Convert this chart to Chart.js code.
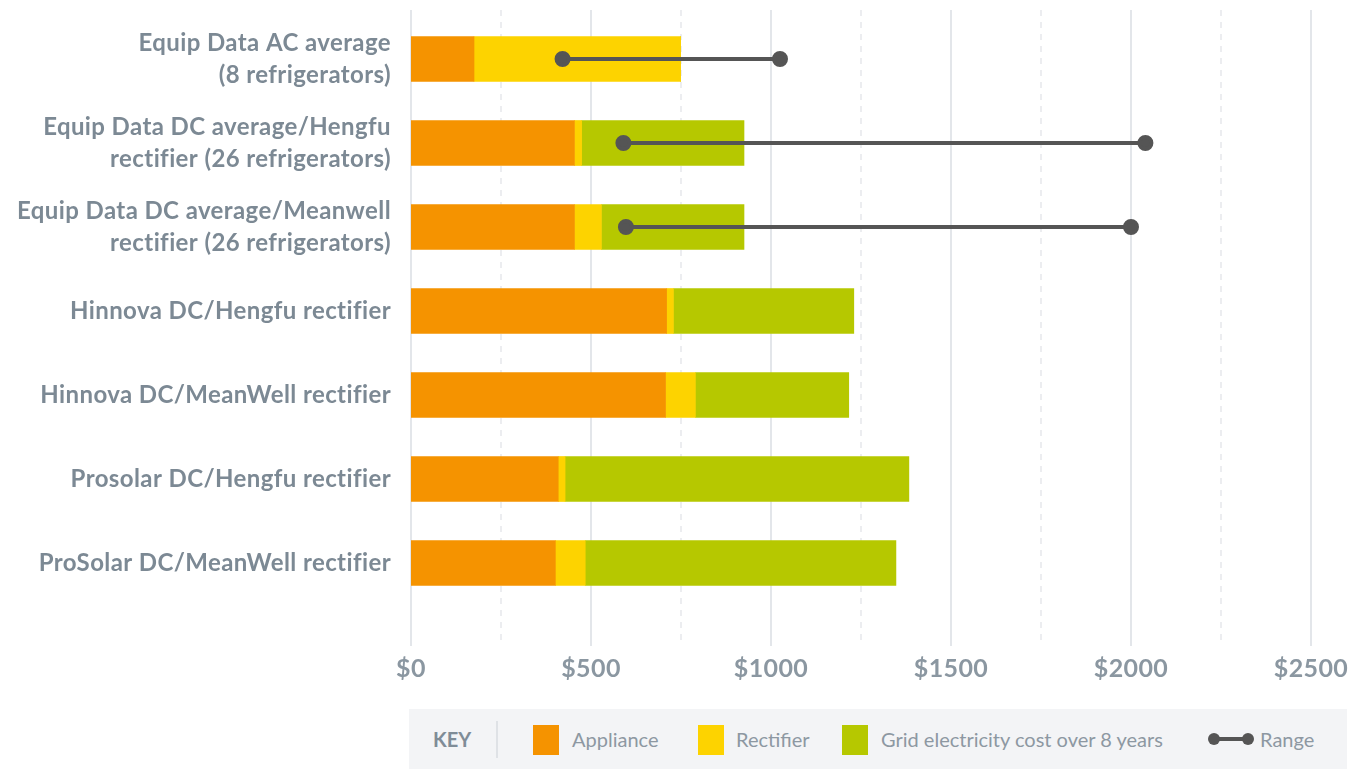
<!DOCTYPE html>
<html>
<head>
<meta charset="utf-8">
<script src="https://cdn.jsdelivr.net/npm/chart.js@4/dist/chart.umd.min.js"></script>
<style>
	html, body { margin: 0; padding: 0; background: #fff; }
	#wrap { position: relative; width: 1365px; height: 769px; font-family: Lato, "Open Sans", sans-serif; }
	#key { position: absolute; left: 409px; top: 709px; width: 938px; height: 60px; background: #f3f4f6; }
	#key span { position: absolute; top: 18px; font-size: 20px; line-height: 24px; color: #8d98a2; }
	#key .sw { position: absolute; top: 16px; width: 26px; height: 30px; }
	#key .title { font-weight: bold; color: #7f8c97; }
	#key .sep { position: absolute; left: 87px; top: 12px; width: 2px; height: 37px; background: #dfe2e6; }
</style>
</head>
<body>
<div id="wrap">
	<canvas id="chart"></canvas>
	<div id="key">
		<span class="title" style="left:24px">KEY</span>
		<div class="sep"></div>
		<div class="sw" style="left:124px;background:#f59300"></div>
		<span style="left:163px">Appliance</span>
		<div class="sw" style="left:289px;background:#fdd300"></div>
		<span style="left:327px">Rectifier</span>
		<div class="sw" style="left:433px;background:#b6c800"></div>
		<span style="left:472px">Grid electricity cost over 8 years</span>
		<svg style="position:absolute;left:797px;top:22px" width="50" height="16">
			<line x1="8" y1="8" x2="42" y2="8" stroke="#555" stroke-width="4"></line>
			<circle cx="8" cy="8" r="6" fill="#555"></circle>
			<circle cx="42" cy="8" r="6" fill="#555"></circle>
		</svg>
		<span style="left:851px">Range</span>
	</div>
</div>
<script>
// categories and values (US$)
var categories = [
	['Equip Data AC average', '(8 refrigerators)'],
	['Equip Data DC average/Hengfu', 'rectifier (26 refrigerators)'],
	['Equip Data DC average/Meanwell', 'rectifier (26 refrigerators)'],
	'Hinnova DC/Hengfu rectifier',
	'Hinnova DC/MeanWell rectifier',
	'Prosolar DC/Hengfu rectifier',
	'ProSolar DC/MeanWell rectifier'
];
var appliance = [175, 454, 454, 710, 707, 409, 401];
var rectifier = [574, 20, 75, 19, 83, 19, 83];
var gridCost = [0, 451, 396, 501, 426, 955, 863];
var rangeLow = [421, 590, 597];
var rangeHigh = [1025, 2040, 2000];
var xTicks = [0, 500, 1000, 1500, 2000, 2500];

var labelColor = '#7c8994';

// grid lines run a bit above and below the bars, so draw them here
var gridPlugin = {
	id: 'longGrid',
	beforeDraw: function (chart) {
		// the labels in the original are set a little looser than Lato
		chart.ctx.letterSpacing = '0.4px';
	},
	beforeDatasetsDraw: function (chart) {
		var ctx = chart.ctx;
		var x = chart.scales.x;
		ctx.save();
		for (var v = 0; v <= 2500; v += 250) {
			var px = Math.round(x.getPixelForValue(v));
			ctx.beginPath();
			if (v % 500 == 0) {
				ctx.setLineDash([]);
				ctx.strokeStyle = '#e3e6ea';
				ctx.lineWidth = 2;
			} else {
				ctx.setLineDash([6, 6]);
				ctx.strokeStyle = '#e6e8ec';
				ctx.lineWidth = 1.5;
			}
			ctx.moveTo(px, 10);
			ctx.lineTo(px, 646);
			ctx.stroke();
		}
		ctx.restore();
	}
};

var datasets = [
	{ label: 'Appliance', data: appliance, backgroundColor: '#f59300', stack: 'cost', order: 2 },
	{ label: 'Rectifier', data: rectifier, backgroundColor: '#fdd300', stack: 'cost', order: 2 },
	{ label: 'Grid electricity cost over 8 years', data: gridCost, backgroundColor: '#b6c800', stack: 'cost', order: 2 }
];
rangeLow.forEach(function (lo, i) {
	datasets.push({
		type: 'line',
		label: 'Range',
		data: [{ x: lo, y: categories[i] }, { x: rangeHigh[i], y: categories[i] }],
		borderColor: '#555555',
		backgroundColor: '#555555',
		borderWidth: 4,
		pointRadius: 6,
		pointHoverRadius: 6,
		stack: 'range' + i,
		order: 0
	});
});

new Chart(document.getElementById('chart'), {
	type: 'bar',
	data: { labels: categories, datasets: datasets },
	options: {
		indexAxis: 'y',
		responsive: true,
		maintainAspectRatio: false,
		animation: false,
		barThickness: 45,
		layout: { padding: { top: 17, right: 54, bottom: 74, left: 0 } },
		plugins: {
			legend: { display: false },
			tooltip: { enabled: false }
		},
		scales: {
			x: {
				stacked: true,
				min: 0,
				max: 2500,
				afterFit: function (s) { s.height = 90; s.paddingLeft = 0; s.paddingRight = 0; },
				afterBuildTicks: function (s) { s.ticks = xTicks.map(function (v) { return { value: v }; }); },
				grid: { display: false, drawTicks: false },
				border: { display: false },
				ticks: {
					padding: 49,
					color: '#8b97a1',
					font: { family: 'Lato', size: 25, weight: 'bold' },
					callback: function (v) { return '$' + v; }
				}
			},
			y: {
				stacked: true,
				afterFit: function (s) { s.width = 411; s.paddingTop = 0; s.paddingBottom = 0; },
				grid: { display: false, drawTicks: false },
				border: { display: false },
				ticks: {
					padding: 20,
					color: labelColor,
					font: { family: 'Lato', size: 24, weight: 'bold', lineHeight: 1.33 }
				}
			}
		}
	},
	plugins: [gridPlugin]
});
document.getElementById('chart').parentNode.style.height = '769px';
</script>
</body>
</html>
